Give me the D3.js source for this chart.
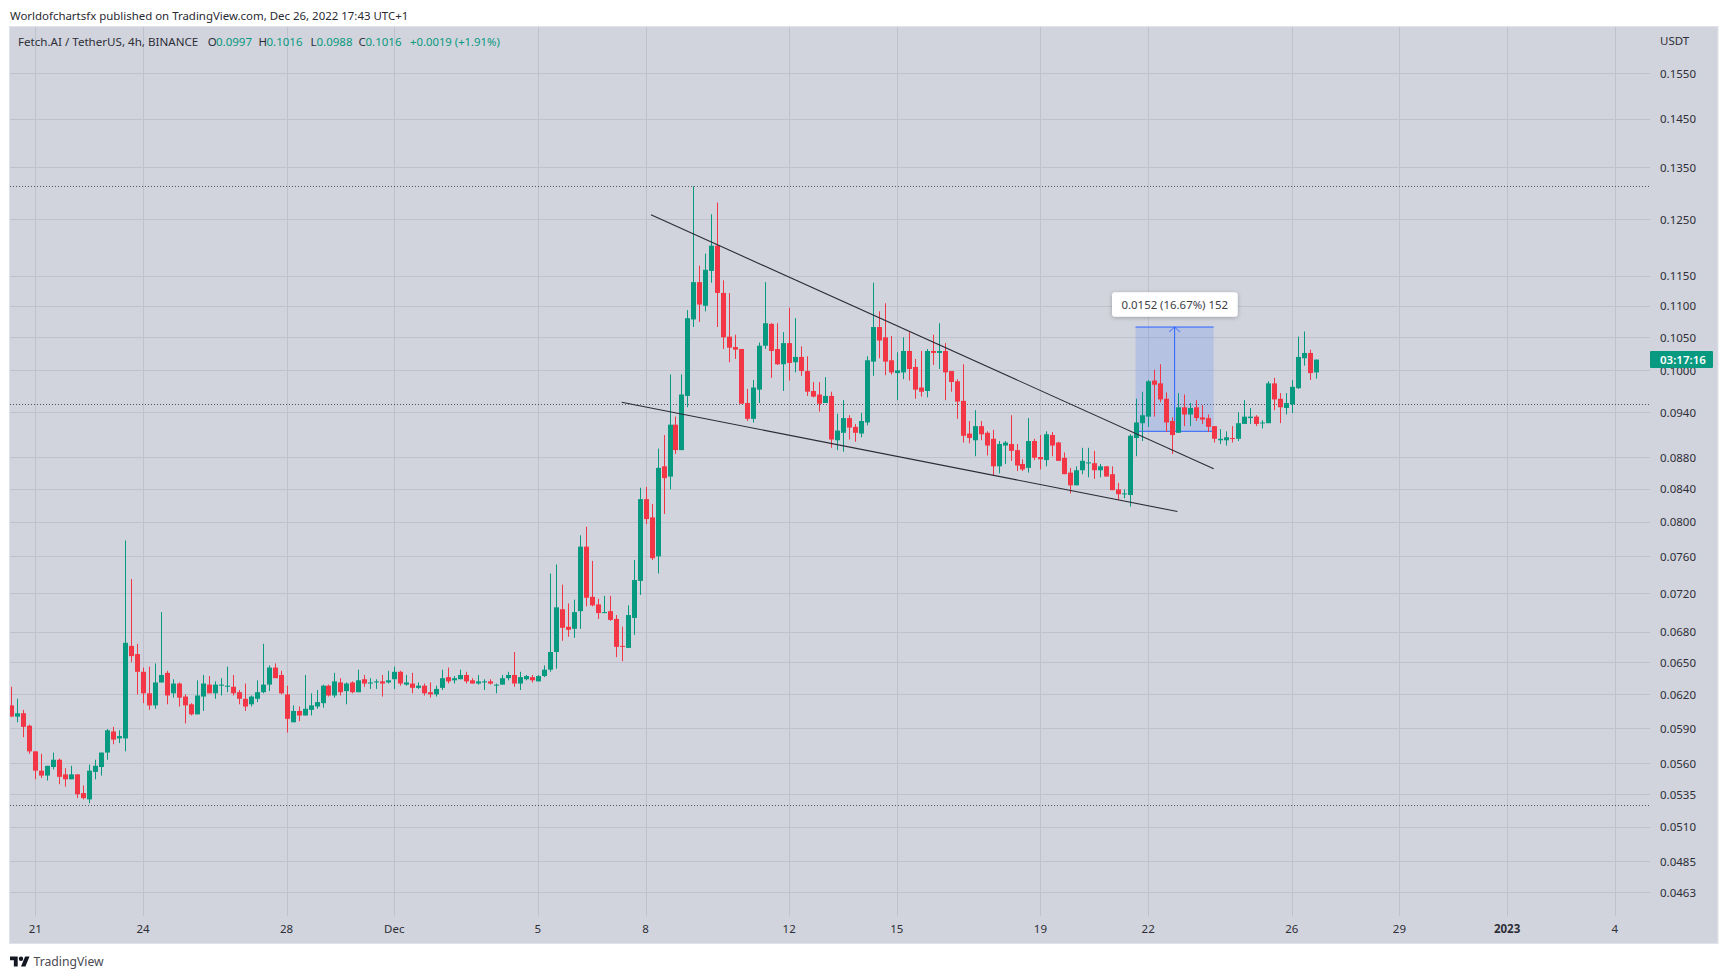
<!DOCTYPE html>
<html><head><meta charset="utf-8">
<script src="https://d3js.org/d3.v7.min.js"></script>
<style>
html,body{margin:0;padding:0;background:#fff;}
svg{display:block;}
text{font-family:"Noto Sans",sans-serif;}
</style></head><body>
<svg id="c" width="1728" height="979"></svg>
<script>
const opens=[.0610,.0600,.0603,.0592,.0570,.0554,.0550,.0557,.0563,.0551,
.0547,.0551,.0536,.0531,.0553,.0557,.0569,.0587,.0581,.0581,
.0666,.0658,.0641,.0621,.0610,.0631,.0640,.0621,.0630,.0618,
.0611,.0602,.0618,.0629,.0621,.0628,.0627,.0627,.0622,.0616,
.0611,.0616,.0622,.0629,.0645,.0638,.0620,.0595,.0605,.0601,
.0606,.0609,.0612,.0628,.0619,.0631,.0623,.0631,.0622,.0634,
.0630,.0631,.0632,.0631,.0634,.0641,.0629,.0630,.0626,.0628,
.0622,.0620,.0626,.0636,.0633,.0634,.0638,.0633,.0630,.0631,
.0632,.0628,.0629,.0635,.0638,.0630,.0634,.0636,.0632,.0637,
.0643,.0660,.0703,.0685,.0683,.0701,.0771,.0716,.0708,.0699,
.0701,.0693,.0666,.0664,.0694,.0733,.0827,.0805,.0760,.0868,
.0855,.0923,.0889,.0963,.1078,.1139,.1100,.1158,.1202,.1121,
.1051,.1035,.1032,.0953,.0931,.0972,.1037,.1071,.1032,.1009,
.1041,.1012,.1020,.0999,.0970,.0965,.0953,.0963,.0902,.0912,
.0932,.0920,.0911,.0926,.1013,.1066,.1050,.1015,.0996,.0997,
.1029,.1005,.0975,.0970,.1029,.1026,.1029,.0999,.0984,.0956,
.0911,.0902,.0921,.0912,.0904,.0868,.0895,.0897,.0889,.0871,
.0866,.0901,.0880,.0876,.0909,.0899,.0879,.0860,.0844,.0863,
.0872,.0872,.0863,.0868,.0858,.0839,.0833,.0832,.0905,.0925,
.0934,.0985,.0981,.0959,.0928,.0912,.0947,.0937,.0947,.0933,
.0932,.0921,.0902,.0902,.0905,.0904,.0924,.0932,.0934,.0925,
.0925,.0981,.0959,.0946,.0951,.0974,.1018,.1026,.0997];
const highs=[.0627,.0616,.0606,.0593,.0570,.0568,.0558,.0569,.0564,.0556,
.0558,.0551,.0542,.0559,.0563,.0569,.0589,.0591,.0588,.0778,
.0735,.0668,.0645,.0646,.0649,.0700,.0642,.0634,.0631,.0620,
.0612,.0633,.0638,.0637,.0632,.0635,.0646,.0638,.0624,.0630,
.0619,.0633,.0668,.0647,.0649,.0642,.0628,.0610,.0609,.0638,
.0621,.0624,.0629,.0629,.0640,.0635,.0631,.0632,.0643,.0638,
.0635,.0634,.0638,.0642,.0646,.0642,.0638,.0640,.0631,.0630,
.0631,.0628,.0643,.0645,.0637,.0643,.0641,.0635,.0638,.0634,
.0634,.0630,.0638,.0641,.0660,.0641,.0638,.0638,.0638,.0647,
.0741,.0751,.0729,.0709,.0713,.0784,.0794,.0755,.0714,.0717,
.0717,.0697,.0685,.0707,.0756,.0841,.0842,.0821,.0891,.0909,
.0994,.0934,.0994,.1093,.1312,.1167,.1188,.1259,.1281,.1142,
.1121,.1054,.1032,.0973,.0986,.1042,.1139,.1072,.1072,.1058,
.1097,.1080,.1036,.1021,.0983,.0983,.0990,.0969,.0938,.0957,
.0936,.0924,.0939,.1021,.1138,.1091,.1104,.1052,.1027,.1050,
.1058,.1017,.1029,.1032,.1054,.1072,.1041,.0999,.0987,.1009,
.0928,.0943,.0928,.0914,.0916,.0901,.0901,.0936,.0897,.0877,
.0932,.0904,.0909,.0914,.0913,.0900,.0886,.0866,.0868,.0892,
.0892,.0888,.0871,.0868,.0868,.0847,.0839,.0910,.0959,.0969,
.0986,.1001,.1009,.0968,.0933,.0967,.0965,.0953,.0957,.0950,
.0937,.0921,.0917,.0914,.0921,.0940,.0957,.0946,.0936,.0929,
.0984,.0989,.0967,.0967,.0986,.1051,.1059,.1031,.1016];
const lows=[.0600,.0595,.0582,.0568,.0547,.0548,.0546,.0555,.0543,.0541,
.0547,.0532,.0531,.0528,.0547,.0550,.0563,.0576,.0577,.0570,
.0650,.0620,.0612,.0606,.0607,.0631,.0611,.0617,.0609,.0594,
.0601,.0602,.0605,.0621,.0616,.0619,.0622,.0619,.0611,.0605,
.0609,.0613,.0621,.0623,.0635,.0620,.0586,.0595,.0596,.0601,
.0601,.0607,.0608,.0618,.0617,.0619,.0611,.0621,.0622,.0627,
.0625,.0625,.0618,.0630,.0625,.0628,.0628,.0621,.0625,.0619,
.0617,.0618,.0624,.0630,.0630,.0634,.0630,.0630,.0629,.0624,
.0629,.0621,.0629,.0633,.0627,.0624,.0633,.0631,.0632,.0636,
.0641,.0644,.0671,.0675,.0674,.0683,.0706,.0706,.0693,.0699,
.0691,.0655,.0651,.0664,.0677,.0718,.0797,.0756,.0741,.0809,
.0839,.0884,.0889,.0947,.1066,.1074,.1091,.1138,.1066,.1032,
.1012,.1017,.0952,.0928,.0926,.0953,.1032,.0989,.1008,.0970,
.0985,.0997,.0992,.0963,.0961,.0941,.0953,.0892,.0889,.0887,
.0903,.0900,.0906,.0922,.0992,.1018,.0993,.0994,.0957,.0987,
.0985,.0959,.0962,.0961,.1008,.1002,.0957,.0969,.0931,.0899,
.0898,.0881,.0902,.0882,.0857,.0859,.0871,.0875,.0862,.0862,
.0860,.0876,.0864,.0868,.0881,.0875,.0858,.0834,.0844,.0858,
.0854,.0852,.0854,.0855,.0838,.0826,.0828,.0818,.0881,.0901,
.0920,.0934,.0954,.0913,.0884,.0912,.0921,.0921,.0928,.0924,
.0913,.0899,.0897,.0895,.0899,.0901,.0924,.0924,.0921,.0918,
.0925,.0943,.0925,.0937,.0939,.0973,.1007,.0986,.0988];
const closes=[.0600,.0603,.0591,.0570,.0554,.0550,.0558,.0563,.0549,.0547,
.0551,.0535,.0532,.0554,.0558,.0569,.0588,.0580,.0583,.0669,
.0656,.0641,.0621,.0610,.0631,.0638,.0619,.0630,.0617,.0610,
.0602,.0619,.0630,.0621,.0629,.0629,.0628,.0621,.0616,.0609,
.0618,.0622,.0629,.0645,.0635,.0621,.0598,.0605,.0601,.0607,
.0610,.0613,.0628,.0619,.0632,.0622,.0630,.0622,.0633,.0630,
.0631,.0632,.0630,.0633,.0641,.0630,.0631,.0626,.0628,.0621,
.0620,.0625,.0635,.0632,.0635,.0638,.0632,.0630,.0632,.0632,
.0630,.0629,.0635,.0638,.0630,.0636,.0637,.0633,.0637,.0643,
.0660,.0705,.0684,.0682,.0700,.0771,.0715,.0707,.0699,.0700,
.0692,.0665,.0665,.0697,.0734,.0827,.0803,.0758,.0866,.0853,
.0923,.0889,.0965,.1080,.1139,.1102,.1160,.1202,.1121,.1050,
.1034,.1031,.0952,.0931,.0975,.1037,.1072,.1029,.1009,.1041,
.1011,.1020,.0999,.0969,.0962,.0952,.0963,.0903,.0915,.0932,
.0919,.0912,.0928,.1015,.1066,.1045,.1013,.0997,.1000,.1029,
.1002,.0972,.0969,.1029,.1026,.1029,.0997,.0983,.0955,.0908,
.0905,.0921,.0910,.0895,.0868,.0897,.0899,.0888,.0869,.0864,
.0901,.0879,.0877,.0910,.0895,.0875,.0858,.0844,.0863,.0875,
.0873,.0863,.0868,.0855,.0838,.0833,.0834,.0908,.0926,.0936,
.0984,.0979,.0958,.0926,.0909,.0947,.0937,.0946,.0932,.0930,
.0920,.0904,.0904,.0906,.0904,.0925,.0934,.0934,.0924,.0926,
.0981,.0958,.0947,.0953,.0976,.1020,.1026,.0996,.1016];

const priceTicks=[.1550,.1450,.1350,.1250,.1150,.1100,.1050,.1000,.0940,.0880,.0840,.0800,.0760,.0720,.0680,.0650,.0620,.0590,.0560,.0535,.0510,.0485,.0463];
const timeTickBars=[4,22,46,64,88,106,130,148,172,190,214,232,250,268];
const timeTickLabels=["21","24","28","Dec","5","8","12","15","19","22","26","29","2023","4"];
const levelPrices=[.1312,.0952,.0527];
const upperTrend=[[106.9,.1258],[200.95,.0865]];
const lowerTrend=[[102,.0954],[194.9,.0812]];
const rangeBars=[187.9,200.95];
const rangePrices=[.1066,.0914];

const publishedText="Worldofchartsfx published on TradingView.com, Dec 26, 2022 17:43 UTC+1";
const symbolText="Fetch.AI / TetherUS, 4h, BINANCE";
const ohlcLabels=[["O","0.0997",207.7,216],["H","0.1016",258.5,266.5],["L","0.0988",310.6,316.5],["C","0.1016",358.5,365.5]];

const GREEN="#089981",RED="#f23645",BG="#d1d4dc",GRID="#bfc2cc",TXT="#2e2e38",BLUE="#2962ff";
const svg=d3.select("#c");
const paneL=10,paneR=1650,paneT=27,paneB=916,frameR=1717.5,frameB=943;

const x=d3.scaleLinear().domain([0,268]).range([11.4,1614.8]);
const y=d3.scaleLog().domain([.155,.0463]).range([73.3,892.3]);

svg.append("rect").attr("x",paneL-.5).attr("y",paneT-.5).attr("width",frameR-paneL+1).attr("height",frameB-paneT+1)
  .attr("fill",BG).attr("stroke","#e0e3eb");

const defs=svg.append("defs");
defs.append("clipPath").attr("id","pane").append("rect").attr("x",paneL).attr("y",paneT).attr("width",paneR-paneL).attr("height",paneB-paneT);
const sh=defs.append("filter").attr("id","sh").attr("x","-10%").attr("y","-30%").attr("width","120%").attr("height","170%");
sh.append("feDropShadow").attr("dx",0).attr("dy",1).attr("stdDeviation",2).attr("flood-color","#000").attr("flood-opacity",.25);

// grid
const grid=svg.append("g");
grid.selectAll("line.h").data(priceTicks).join("line").attr("class","h")
  .attr("x1",paneL).attr("x2",paneR).attr("y1",d=>Math.round(y(d))+.5).attr("y2",d=>Math.round(y(d))+.5)
  .attr("stroke",GRID).attr("stroke-width",1);
grid.selectAll("line.v").data(timeTickBars).join("line").attr("class","v")
  .attr("x1",d=>Math.round(x(d))+.5).attr("x2",d=>Math.round(x(d))+.5).attr("y1",paneT).attr("y2",paneB)
  .attr("stroke",GRID).attr("stroke-width",1);

const pane=svg.append("g").attr("clip-path","url(#pane)");
pane.selectAll("line.level").data(levelPrices).join("line").attr("class","level")
  .attr("x1",paneL).attr("x2",paneR).attr("y1",d=>Math.round(y(d))+.5).attr("y2",d=>Math.round(y(d))+.5)
  .attr("stroke","#50535e").attr("stroke-width",1).attr("stroke-dasharray","1 2");

// price range box
const bx0=x(rangeBars[0]),bx1=x(rangeBars[1]),by0=y(rangePrices[0]),by1=y(rangePrices[1]);
pane.append("rect").attr("x",bx0).attr("y",by0).attr("width",bx1-bx0).attr("height",by1-by0)
  .attr("fill",BLUE).attr("fill-opacity",.16);
pane.selectAll("line.rng").data(rangePrices).join("line").attr("class","rng")
  .attr("x1",bx0).attr("x2",bx1).attr("y1",d=>y(d)).attr("y2",d=>y(d)).attr("stroke",BLUE).attr("stroke-width",1);
const mx=(bx0+bx1)/2;
pane.append("line").attr("x1",mx).attr("x2",mx).attr("y1",by0).attr("y2",by1).attr("stroke",BLUE).attr("stroke-width",1);
pane.append("path").attr("d",d3.line()([[mx-5.5,by0+5],[mx,by0],[mx+5.5,by0+5]])).attr("fill","none").attr("stroke",BLUE).attr("stroke-opacity",.55).attr("stroke-width",1.2);

// candles
const bars=d3.range(opens.length);
const colour=i=>closes[i]>=opens[i]?GREEN:RED;
pane.selectAll("line.wick").data(bars).join("line").attr("class","wick")
  .attr("x1",i=>Math.round(x(i))+.5).attr("x2",i=>Math.round(x(i))+.5)
  .attr("y1",i=>y(highs[i])).attr("y2",i=>y(lows[i])).attr("stroke",colour).attr("stroke-width",1);
pane.selectAll("rect.body").data(bars).join("rect").attr("class","body")
  .attr("x",i=>Math.round(x(i))-2).attr("width",5)
  .attr("y",i=>y(Math.max(opens[i],closes[i])))
  .attr("height",i=>Math.max(1,y(Math.min(opens[i],closes[i]))-y(Math.max(opens[i],closes[i]))))
  .attr("fill",colour);

// trend lines
const trendLine=d3.line().x(d=>x(d[0])).y(d=>y(d[1]));
pane.selectAll("path.trend").data([upperTrend,lowerTrend]).join("path").attr("class","trend")
  .attr("d",trendLine).attr("fill","none").attr("stroke","#2b2b36").attr("stroke-width",1.1);

// measure tooltip
svg.append("rect").attr("x",1112).attr("y",292.3).attr("width",125.7).attr("height",24.4).attr("rx",3)
  .attr("fill","#fff").attr("filter","url(#sh)");
svg.append("text").attr("x",1174.8).attr("y",308.6).attr("text-anchor","middle").attr("font-size",11.4).attr("fill","#3d3d45").text("0.0152 (16.67%) 152");

// axes
const yAxis=d3.axisRight(y).tickValues(priceTicks).tickSize(0).tickPadding(10).tickFormat(d3.format(".4f"));
const yG=svg.append("g").attr("transform",`translate(${paneR},0.5)`).call(yAxis);
yG.select(".domain").remove();
yG.selectAll("text").attr("font-size",11.5).attr("fill",TXT).style("font-family",'"Noto Sans",sans-serif');
svg.append("text").attr("x",1660).attr("y",45).attr("font-size",11.5).attr("fill",TXT).text("USDT");

const xAxis=d3.axisBottom(x).tickValues(timeTickBars).tickSize(0).tickPadding(0).tickFormat((d,i)=>timeTickLabels[i]);
const xG=svg.append("g").attr("transform",`translate(-0.5,${paneB+9})`).call(xAxis);
xG.select(".domain").remove();
xG.selectAll("text").attr("font-size",11.5).attr("fill",TXT).style("font-family",'"Noto Sans",sans-serif')
  .attr("font-weight",(d,i)=>timeTickLabels[i]==="2023"?700:400);

// countdown tag
svg.append("rect").attr("x",1650).attr("y",351).attr("width",63).attr("height",17).attr("rx",1).attr("fill",GREEN);
svg.append("text").attr("x",1660).attr("y",364).attr("font-size",11.5).attr("font-weight",600).attr("fill","#fff").text("03:17:16");

// header
svg.append("text").attr("x",10).attr("y",20).attr("font-size",11.45).attr("fill","#2a2a33").text(publishedText);
const leg=svg.append("g");
leg.append("text").attr("x",18).attr("y",46).attr("font-size",11.6).attr("fill",TXT).text(symbolText);
ohlcLabels.forEach(r=>{
  leg.append("text").attr("x",r[2]).attr("y",46).attr("font-size",11.5).attr("fill",TXT).text(r[0]);
  leg.append("text").attr("x",r[3]).attr("y",46).attr("font-size",11.5).attr("fill",GREEN).text(r[1]);
});
leg.append("text").attr("x",410).attr("y",46).attr("font-size",11.3).attr("fill",GREEN).text("+0.0019 (+1.91%)");

// footer
svg.append("g").attr("transform","translate(10,954.3) scale(.55)").call(g=>{
  g.append("path").attr("d","M14 22H7V11H0V4h14v18zM28 22h-8l7.5-18h8L28 22z").attr("fill","#131722");
  g.append("circle").attr("cx",20).attr("cy",8).attr("r",4).attr("fill","#131722");
});
svg.append("text").attr("x",33.5).attr("y",966).attr("font-size",12.2).attr("fill","#4a4a52").text("TradingView");
</script></body></html>
